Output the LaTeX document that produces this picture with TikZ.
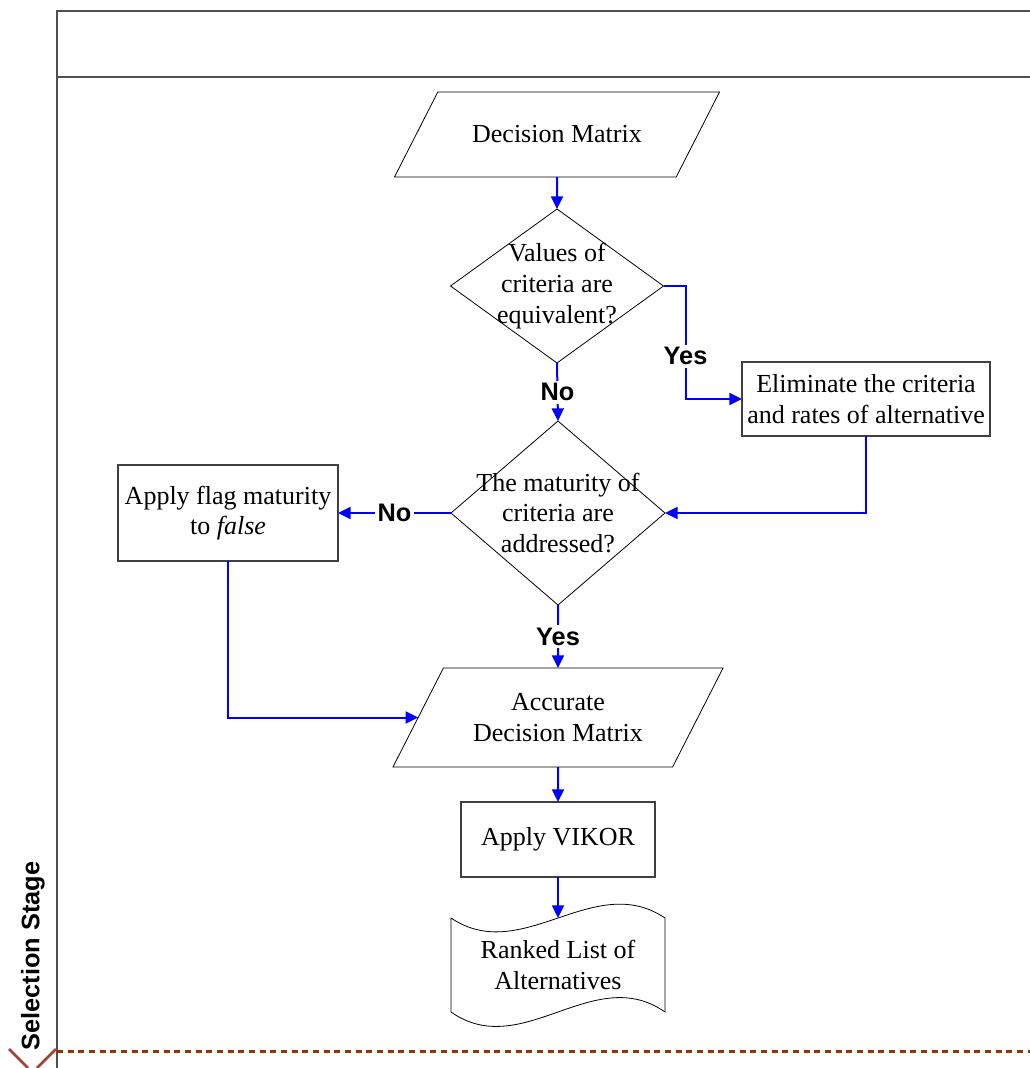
\documentclass[tikz,border=0pt]{standalone}
\usepackage{fontspec}
\setmainfont{Liberation Serif}
\setsansfont{Liberation Sans}
\usetikzlibrary{shapes.geometric,arrows.meta,calc}
\definecolor{flowblue}{RGB}{0,0,255}
\definecolor{lanebrown}{RGB}{153,51,0}
\definecolor{chevroncol}{RGB}{160,66,50}
\definecolor{framegray}{RGB}{80,80,80}
\definecolor{boxgray}{RGB}{64,64,64}
% fixed-size text box used as the body of the data (parallelogram) shapes
\newcommand{\iotext}[3]{\parbox[c][#2][c]{#1}{\centering #3}}
\begin{document}
\begin{tikzpicture}[x=0.75pt,y=-0.75pt,
  every node/.style={font=\fontsize{19.5}{23}\selectfont, inner sep=0pt, outer sep=0pt},
  procbox/.style={draw=boxgray, line width=0.9pt, rectangle, align=center},
  iobox/.style={draw=black, line width=0.6pt, trapezium, trapezium left angle=63,
    trapezium right angle=117},
  decision/.style={draw=black, line width=0.6pt, diamond},
  flow/.style={draw=flowblue, line width=1.5pt, -{Triangle[length=9.5pt,width=9pt]}},
  answer/.style={font=\sffamily\bfseries\fontsize{19}{23}\selectfont, fill=white, inner sep=2pt},
]
\useasboundingbox (0,0) rectangle (1030,1068);

% swimlane frame
\draw[framegray, line width=1pt] (57,1068) -- (57,11) -- (1030,11);
\draw[framegray, line width=1pt] (57,77) -- (1030,77);
\node[rotate=90, font=\sffamily\bfseries\fontsize{19}{23}\selectfont] (stage) at (33,956) {Selection Stage};
\draw[lanebrown, line width=2.25pt, dash pattern=on 4.5pt off 3.5pt] (57,1051) -- (1030,1051);
\draw[chevroncol, line width=2pt] (9,1049) -- (28,1068);
\draw[chevroncol, line width=2pt] (56,1049) -- (37,1068);

% flowchart nodes
\node[iobox] (dm) at (557,134.5) {\iotext{178.8pt}{63.75pt}{Decision Matrix}};
\node[decision, minimum width=159.75pt, minimum height=115.5pt,
  label={[align=center]center:Values of\\criteria are\\equivalent?}] (d1) at (557,286) {};
\node[procbox, minimum width=186pt, minimum height=55.5pt] (elim) at (866,399)
  {Eliminate the criteria\\and rates of alternative};
\node[decision, minimum width=160.5pt, minimum height=138pt,
  label={[align=center]center:The maturity of\\criteria are\\addressed?}] (d2) at (558,513) {};
\node[procbox, minimum width=165pt, minimum height=72pt] (flag) at (228,513)
  {Apply flag maturity\\to \textit{false}};
\node[iobox] (adm) at (558,717.5) {\iotext{171.9pt}{74.25pt}{Accurate\\Decision Matrix}};
\node[procbox, minimum width=145.5pt, minimum height=56.25pt] (vikor) at (558,839.5) {Apply VIKOR};
\node[minimum width=160.5pt, minimum height=70.5pt, align=center] (doc) at (558,965)
  {Ranked List of\\Alternatives};
% wavy document outline
\draw[line width=0.6pt] (doc.north west)
  .. controls ($(doc.north west)+(71.3,48)$) and ($(doc.north east)+(-71.3,-48)$) .. (doc.north east)
  -- (doc.south east)
  .. controls ($(doc.south east)+(-71.3,-50)$) and ($(doc.south west)+(71.3,50)$) .. (doc.south west)
  -- cycle;

% connectors
\draw[flow] (dm.south) -- (d1.north);
\draw[flow] (d1.south) -- node[answer]{No} (d2.north);
\draw[flow] (d1.east) -- ++(22,0) |- node[answer, pos=0.31]{Yes} (elim.west);
\draw[flow] (elim.south) |- (d2.east);
\draw[flow] (d2.west) -- node[answer]{No} (flag.east);
\draw[flow] (d2.south) -- node[answer]{Yes} (adm.north);
\draw[flow] (flag.south) |- (adm.west);
\draw[flow] (adm.south) -- (vikor.north);
\draw[flow] (vikor.south) -- (doc.north);
\end{tikzpicture}
\end{document}
